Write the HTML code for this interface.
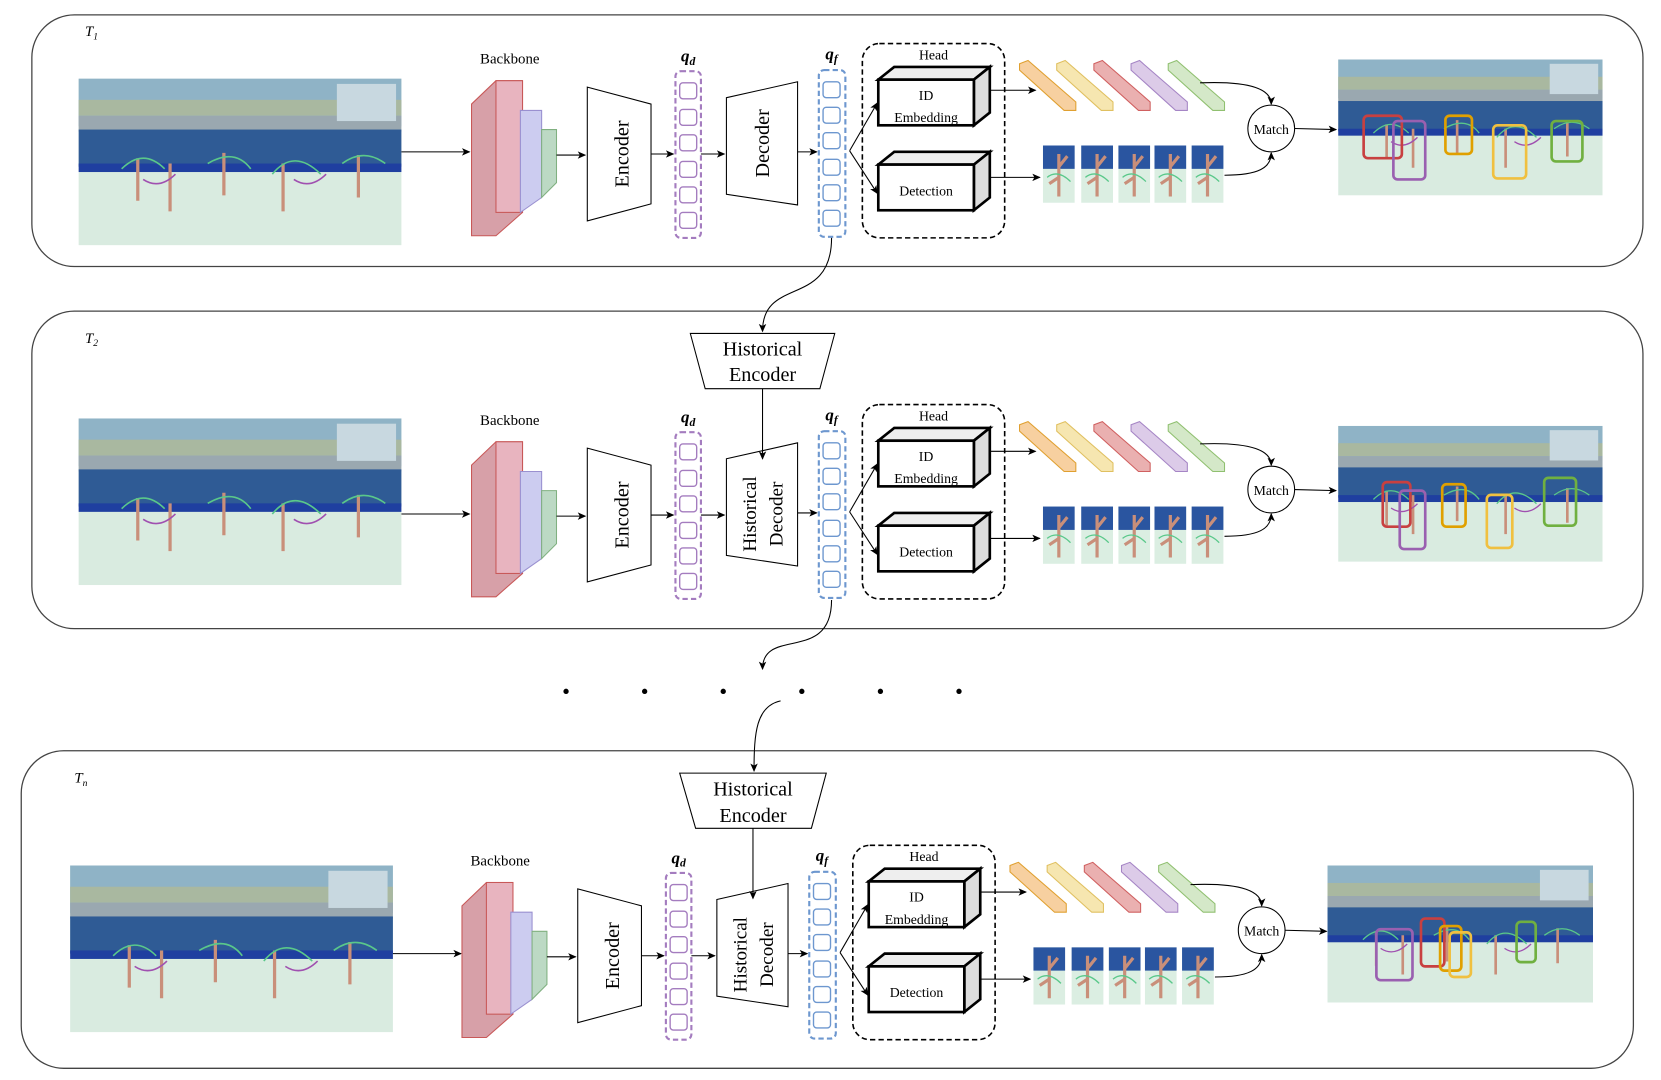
<!DOCTYPE html>
<html><head><meta charset="utf-8"><style>
html,body{margin:0;padding:0;background:#fff;}
svg{display:block;}
text{font-family:"Liberation Serif",serif;fill:#000;}
</style></head><body>
<svg width="1661" height="1080" viewBox="0 0 1564 1017" preserveAspectRatio="none" xmlns="http://www.w3.org/2000/svg">
<defs>
<marker id="ah" markerWidth="8" markerHeight="8" refX="7" refY="4" orient="auto" markerUnits="userSpaceOnUse"><path d="M0,0.5 L8,4 L0,7.5 L2,4z" fill="#000"/></marker>
<symbol id="photo" viewBox="0 0 300 157" preserveAspectRatio="none">
<rect x="0" y="0" width="300" height="157" fill="#d9ebe0"/>
<rect x="0" y="0" width="300" height="45" fill="#8fb3c6"/>
<rect x="0" y="20" width="300" height="15" fill="#a9b8a0"/>
<rect x="0" y="35" width="300" height="15" fill="#9aa8b0"/>
<rect x="0" y="48" width="300" height="35" fill="#2f5b95"/>
<rect x="0" y="80" width="300" height="8" fill="#1f3fa0"/>
<rect x="240" y="5" width="55" height="35" fill="#c8d8e0"/>
<g stroke="#c98f7a" stroke-width="3" fill="none">
<path d="M55,75 v40 M85,80 v45 M135,70 v40 M190,80 v45 M260,72 v40"/>
</g>
<g stroke="#5ac88a" stroke-width="1.5" fill="none">
<path d="M40,85 q20,-20 40,0 M120,80 q25,-15 40,5 M180,90 q20,-25 45,0 M245,80 q20,-15 40,0"/>
</g>
<g stroke="#a050b0" stroke-width="1.5" fill="none"><path d="M60,95 q15,10 30,-5 M200,95 q15,10 30,-5"/></g>
</symbol>
<symbol id="crop" viewBox="0 0 30 54" preserveAspectRatio="none">
<rect width="30" height="54" fill="#dbeee2"/>
<rect width="30" height="22" fill="#2a55a0"/>
<path d="M15,8 v40 M15,20 l8,-10 M15,30 l-9,6" stroke="#c98f7a" stroke-width="3" fill="none"/>
<path d="M4,30 q10,-8 22,4" stroke="#5ac88a" stroke-width="1.2" fill="none"/>
</symbol>
<g id="row">
<text x="480" y="60" font-size="14" text-anchor="middle">Backbone</text>
<polygon points="444,98 467,76 492,76 492,200 467,222 444,222" fill="#d7a0a8" stroke="#c85858"/>
<rect x="467" y="76" width="25" height="124" fill="#e8b4bf" stroke="#c85858"/>
<polygon points="490,104 510,104 510,186 490,200" fill="#ccccf0" stroke="#9a90d0"/>
<polygon points="510,122 524,122 524,172 510,186" fill="#bcd9c4" stroke="#80b080"/>
<line x1="524" y1="146" x2="551" y2="146" stroke="#000" marker-end="url(#ah)"/>
<polygon points="553,82 613,98 613,192 553,208" fill="#fff" stroke="#000"/>
<line x1="613" y1="145" x2="634" y2="145" stroke="#000" marker-end="url(#ah)"/>
<text x="648" y="58" font-size="16" font-style="italic" font-weight="bold" text-anchor="middle">q<tspan font-size="11" dy="3">d</tspan></text>
<rect x="636" y="67" width="24" height="157" rx="5" fill="none" stroke="#a47cbf" stroke-width="2" stroke-dasharray="5,3"/>
<g fill="none" stroke="#a47cbf" stroke-width="1.3">
<rect x="640" y="78" width="16" height="15" rx="3"/><rect x="640" y="103" width="16" height="15" rx="3"/><rect x="640" y="127" width="16" height="15" rx="3"/><rect x="640" y="152" width="16" height="15" rx="3"/><rect x="640" y="176" width="16" height="15" rx="3"/><rect x="640" y="200" width="16" height="15" rx="3"/></g>
<line x1="660" y1="145" x2="682" y2="145" stroke="#000" marker-end="url(#ah)"/>
<polygon points="684,92 751,77 751,193 684,183" fill="#fff" stroke="#000"/>
<line x1="751" y1="143" x2="769" y2="143" stroke="#000" marker-end="url(#ah)"/>
<text x="783" y="56" font-size="16" font-style="italic" font-weight="bold" text-anchor="middle">q<tspan font-size="11" dy="3">f</tspan></text>
<rect x="771" y="66" width="25" height="157" rx="5" fill="none" stroke="#6d97cf" stroke-width="2" stroke-dasharray="5,3"/>
<g fill="none" stroke="#6d97cf" stroke-width="1.3">
<rect x="775" y="77" width="16" height="15" rx="3"/><rect x="775" y="101" width="16" height="15" rx="3"/><rect x="775" y="125" width="16" height="15" rx="3"/><rect x="775" y="150" width="16" height="15" rx="3"/><rect x="775" y="174" width="16" height="15" rx="3"/><rect x="775" y="198" width="16" height="15" rx="3"/></g>
<path d="M800,142 L826,97" stroke="#000" fill="none" marker-end="url(#ah)"/>
<path d="M800,142 L826,182" stroke="#000" fill="none" marker-end="url(#ah)"/>
<rect x="812" y="41" width="134" height="183" rx="16" fill="none" stroke="#000" stroke-width="1.5" stroke-dasharray="5,3"/>
<text x="879" y="56" font-size="13" text-anchor="middle">Head</text>
<polygon points="827,75 842,63 932,63 917,75" fill="#eee" stroke="#000" stroke-width="2.5"/>
<polygon points="917,75 932,63 932,106 917,118" fill="#ddd" stroke="#000" stroke-width="2.5"/>
<rect x="827" y="75" width="90" height="43" fill="#fff" stroke="#000" stroke-width="2.5"/>
<text x="872" y="94" font-size="13" text-anchor="middle">ID</text>
<text x="872" y="115" font-size="13" text-anchor="middle">Embedding</text>
<polygon points="827,155 842,143 932,143 917,155" fill="#eee" stroke="#000" stroke-width="2.5"/>
<polygon points="917,155 932,143 932,186 917,198" fill="#ddd" stroke="#000" stroke-width="2.5"/>
<rect x="827" y="155" width="90" height="43" fill="#fff" stroke="#000" stroke-width="2.5"/>
<text x="872" y="184" font-size="13" text-anchor="middle" font-family="Liberation Sans">Detection</text>
<line x1="932" y1="85" x2="975" y2="85" stroke="#000" marker-end="url(#ah)"/>
<line x1="932" y1="167" x2="979" y2="167" stroke="#000" marker-end="url(#ah)"/>
<polygon points="960,60 968,57 1013,96 1013,104 1002,104 960,66" fill="#f7d0a0" stroke="#e0a030"/>
<polygon points="995,60 1003,57 1048,96 1048,104 1037,104 995,66" fill="#f6e6b0" stroke="#e0c060"/>
<polygon points="1030,60 1038,57 1083,96 1083,104 1072,104 1030,66" fill="#eab0b0" stroke="#d06060"/>
<polygon points="1065,60 1073,57 1118,96 1118,104 1107,104 1065,66" fill="#dccbe8" stroke="#a585c5"/>
<polygon points="1100,60 1108,57 1153,96 1153,104 1142,104 1100,66" fill="#d4e8c8" stroke="#90c070"/>
<use href="#crop" x="982" y="137" width="30" height="54"/>
<use href="#crop" x="1018" y="137" width="30" height="54"/>
<use href="#crop" x="1053" y="137" width="30" height="54"/>
<use href="#crop" x="1087" y="137" width="30" height="54"/>
<use href="#crop" x="1122" y="137" width="30" height="54"/>
<path d="M1130,78 C1180,76 1197,85 1197,98" stroke="#000" fill="none" marker-end="url(#ah)"/>
<path d="M1153,165 C1185,165 1197,158 1197,144" stroke="#000" fill="none" marker-end="url(#ah)"/>
<circle cx="1197" cy="121" r="22" fill="#fff" stroke="#000"/>
<text x="1197" y="126" font-size="13" text-anchor="middle" font-family="Liberation Sans">Match</text>
<line x1="1219" y1="121" x2="1258" y2="122" stroke="#000" marker-end="url(#ah)"/>
</g>
</defs>

<rect x="30" y="14" width="1517" height="237" rx="40" fill="none" stroke="#444" stroke-width="1.2"/>
<rect x="30" y="293" width="1517" height="299" rx="40" fill="none" stroke="#444" stroke-width="1.2"/>
<rect x="20" y="707" width="1518" height="299" rx="40" fill="none" stroke="#444" stroke-width="1.2"/>
<text x="80" y="34" font-size="14" font-style="italic">T<tspan font-size="9" dy="3">1</tspan></text>
<text x="80" y="323" font-size="14" font-style="italic">T<tspan font-size="9" dy="3">2</tspan></text>
<text x="70" y="737" font-size="14" font-style="italic">T<tspan font-size="9" dy="3">n</tspan></text>

<use href="#photo" x="74" y="74" width="304" height="157"/>
<line x1="378" y1="143" x2="442" y2="143" stroke="#000" marker-end="url(#ah)"/>
<use href="#row"/>
<text transform="translate(592,145) rotate(-90)" font-size="19" text-anchor="middle">Encoder</text>
<text transform="translate(724,135) rotate(-90)" font-size="19" text-anchor="middle">Decoder</text>
<use href="#photo" x="1260" y="56" width="249" height="128"/>
<g fill="none" stroke-width="2.5">
<rect x="1284" y="109" width="36" height="40" rx="4" stroke="#c84040"/>
<rect x="1312" y="114" width="30" height="55" rx="4" stroke="#9a60b0"/>
<rect x="1361" y="109" width="25" height="36" rx="4" stroke="#e0a000"/>
<rect x="1406" y="118" width="31" height="50" rx="4" stroke="#f0c040"/>
<rect x="1461" y="114" width="29" height="38" rx="4" stroke="#70b040"/>
</g>

<path d="M783,224 C783,290 718,260 718,312" stroke="#000" fill="none" marker-end="url(#ah)"/>
<polygon points="650,314 786,314 772,366 664,366" fill="#fff" stroke="#000"/>
<text x="718" y="335" font-size="19" text-anchor="middle">Historical</text>
<text x="718" y="359" font-size="19" text-anchor="middle">Encoder</text>

<use href="#photo" x="74" y="394" width="304" height="157"/>
<line x1="378" y1="484" x2="442" y2="484" stroke="#000" marker-end="url(#ah)"/>
<g transform="translate(0,340)"><use href="#row"/></g>
<line x1="718" y1="366" x2="718" y2="432" stroke="#000" marker-end="url(#ah)"/>
<text transform="translate(712,484) rotate(-90)" font-size="18" text-anchor="middle">Historical</text>
<text transform="translate(737,484) rotate(-90)" font-size="18" text-anchor="middle">Decoder</text>
<text transform="translate(592,485) rotate(-90)" font-size="19" text-anchor="middle">Encoder</text>
<use href="#photo" x="1260" y="401" width="249" height="128"/>
<g fill="none" stroke-width="2.5">
<rect x="1302" y="454" width="26" height="42" rx="4" stroke="#c84040"/>
<rect x="1318" y="462" width="24" height="55" rx="4" stroke="#9a60b0"/>
<rect x="1358" y="456" width="22" height="40" rx="4" stroke="#e0a000"/>
<rect x="1400" y="466" width="24" height="50" rx="4" stroke="#f0c040"/>
<rect x="1454" y="450" width="30" height="45" rx="4" stroke="#70b040"/>
</g>

<path d="M783,565 C783,625 718,590 718,630" stroke="#000" fill="none" marker-end="url(#ah)"/>
<g fill="#000"><circle cx="533" cy="651" r="2.5"/><circle cx="607" cy="651" r="2.5"/><circle cx="681" cy="651" r="2.5"/><circle cx="755" cy="651" r="2.5"/><circle cx="829" cy="651" r="2.5"/><circle cx="903" cy="651" r="2.5"/></g>
<path d="M735,660 C712,665 710,690 710,726" stroke="#000" fill="none" marker-end="url(#ah)"/>
<polygon points="640,728 778,728 764,780 655,780" fill="#fff" stroke="#000"/>
<text x="709" y="749" font-size="19" text-anchor="middle">Historical</text>
<text x="709" y="774" font-size="19" text-anchor="middle">Encoder</text>

<use href="#photo" x="66" y="815" width="304" height="157"/>
<line x1="370" y1="898" x2="434" y2="898" stroke="#000" marker-end="url(#ah)"/>
<g transform="translate(-9,755)"><use href="#row"/></g>
<line x1="709" y1="780" x2="709" y2="846" stroke="#000" marker-end="url(#ah)"/>
<text transform="translate(583,900) rotate(-90)" font-size="19" text-anchor="middle">Encoder</text>
<text transform="translate(703,899) rotate(-90)" font-size="18" text-anchor="middle">Historical</text>
<text transform="translate(728,899) rotate(-90)" font-size="18" text-anchor="middle">Decoder</text>
<use href="#photo" x="1250" y="815" width="250" height="129"/>
<g fill="none" stroke-width="2.5">
<rect x="1296" y="875" width="34" height="48" rx="4" stroke="#9a60b0"/>
<rect x="1338" y="865" width="22" height="45" rx="4" stroke="#c84040"/>
<rect x="1356" y="872" width="20" height="42" rx="4" stroke="#e0a000"/>
<rect x="1365" y="878" width="20" height="42" rx="4" stroke="#f0c040"/>
<rect x="1428" y="868" width="18" height="38" rx="4" stroke="#70b040"/>
</g>
</svg>
</body></html>
